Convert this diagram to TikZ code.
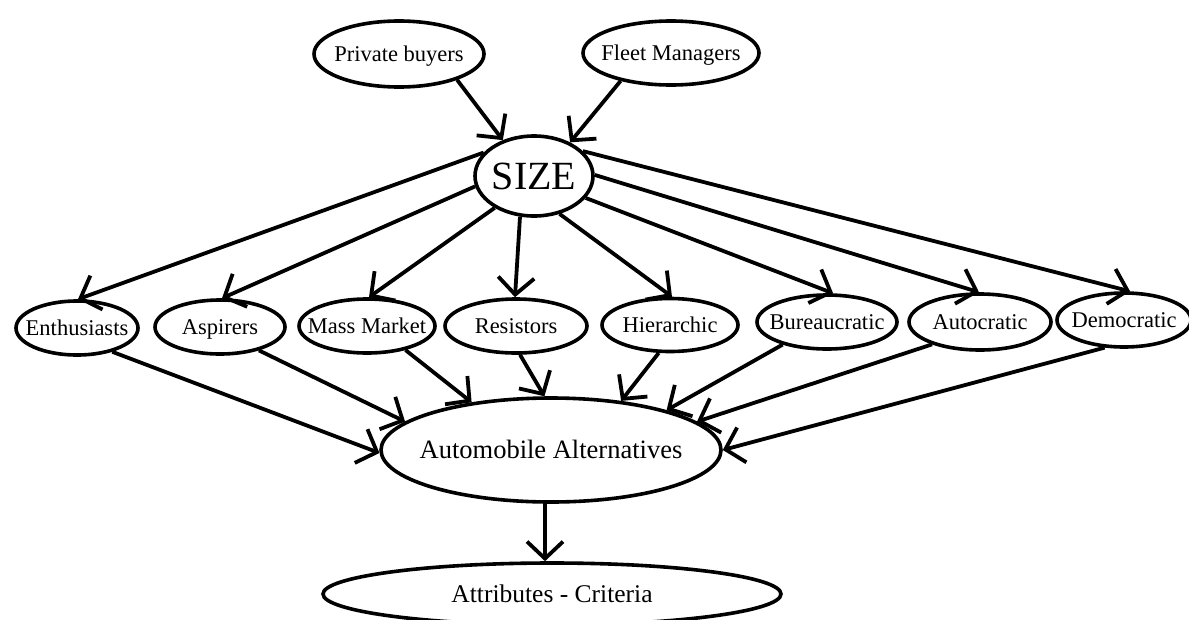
\documentclass[tikz,border=0pt]{standalone}
\usepackage{fontspec}
\setmainfont{Liberation Serif}
\usetikzlibrary{shapes.geometric,arrows.meta}
\begin{document}
\begin{tikzpicture}[x=1pt,y=-1pt,
  ell/.style={ellipse, draw, line width=3.6pt, inner sep=0pt, text height=14.8pt, text depth=0pt, font=\fontsize{22.5}{26}\selectfont},
  conn/.style={line width=3.8pt, -{Straight Barb[length=17pt,width=36pt,line width=3.8pt]}}]
\fill[white] (0,0) rectangle (1189,619);
\useasboundingbox (0,0) rectangle (1189,619);
\clip (0,0) rectangle (1189,619);
% top level
\node[ell, minimum width=170pt, minimum height=66pt] (pb) at (399,54) {\makebox[0pt]{Private buyers}};
\node[ell, minimum width=176pt, minimum height=64pt] (fm) at (671,53) {\makebox[0pt]{Fleet Managers}};
\node[ell, minimum width=118pt, minimum height=80pt, text height=26.5pt, font=\fontsize{40}{44}\selectfont] (size) at (534,176) {\makebox[0pt]{SIZE}};
% second level
\node[ell, minimum width=122pt, minimum height=54pt] (en) at (77,328) {\makebox[0pt]{Enthusiasts}};
\node[ell, minimum width=130pt, minimum height=54pt] (as) at (220,327) {\makebox[0pt]{Aspirers}};
\node[ell, minimum width=136pt, minimum height=54pt] (mm) at (367,326) {\makebox[0pt]{Mass Market}};
\node[ell, minimum width=142pt, minimum height=54pt] (re) at (516,326) {\makebox[0pt]{Resistors}};
\node[ell, minimum width=136pt, minimum height=53pt] (hi) at (670,325) {\makebox[0pt]{Hierarchic}};
\node[ell, minimum width=140pt, minimum height=54pt] (bu) at (827,322) {\makebox[0pt]{Bureaucratic}};
\node[ell, minimum width=142pt, minimum height=56pt] (au) at (980,322) {\makebox[0pt]{Autocratic}};
\node[ell, minimum width=134pt, minimum height=54pt] (de) at (1124,320) {\makebox[0pt]{Democratic}};
% bottom
\node[ell, minimum width=340pt, minimum height=104pt, text height=17.5pt, font=\fontsize{26.5}{30}\selectfont] (aa) at (551,450) {\makebox[0pt]{Automobile Alternatives}};
\node[ell, minimum width=458pt, minimum height=62pt, text height=16.8pt, font=\fontsize{25.5}{30}\selectfont] (ac) at (552,594) {\makebox[0pt]{Attributes - Criteria}};
% connectors
\draw[conn] (pb.-24) -- (size.131);
\draw[conn] (fm.209) -- (size.43);
\draw[conn] (size.155) -- (en.88);
\draw[conn] (size.190) -- (as.86);
\draw[conn] (size.219) -- (mm.86);
\draw[conn] (size.251) -- (re.92);
\draw[conn] (size.304) -- (hi.86);
\draw[conn] (size.337) -- (bu.78);
\draw[conn] (size.1) -- (au.92);
\draw[conn] (size.27) -- (de.78);
\draw[conn] (en.-34) -- (aa.181);
\draw[conn] (as.-31) -- (aa.169);
\draw[conn] (mm.-32) -- (aa.149);
\draw[conn] (re.-82) -- (aa.97);
\draw[conn] (hi.248) -- (aa.35);
\draw[conn] (bu.207) -- (aa.19);
\draw[conn] (au.205) -- (aa.11);
\draw[conn] (de.235) -- (aa.0);
\draw[conn] ([xshift=-6pt]aa.south) -- ([xshift=-7pt]ac.north);
\end{tikzpicture}
\end{document}
